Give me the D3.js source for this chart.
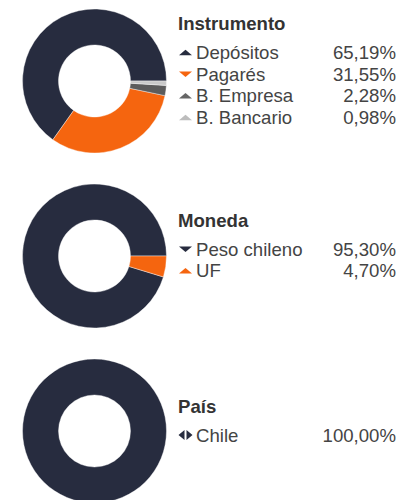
<!DOCTYPE html>
<html>
<head>
<meta charset="utf-8">
<script src="https://cdn.jsdelivr.net/npm/d3@7"></script>
<style>
  html, body { margin: 0; padding: 0; background: #fff; }
  svg { display: block; font-family: "Liberation Sans", Arial, sans-serif; }
</style>
</head>
<body>
<svg id="chart" width="413" height="500"></svg>
<script>
// Portfolio composition: three donuts with their legends
const instrumentoLabels = ["Depósitos", "Pagarés", "B. Empresa", "B. Bancario"];
const instrumentoValues = [65.19, 31.55, 2.28, 0.98];
const instrumentoMarkers = ["up", "down", "up", "up"];

const monedaLabels = ["Peso chileno", "UF"];
const monedaValues = [95.30, 4.70];
const monedaMarkers = ["down", "up"];

const paisLabels = ["Chile"];
const paisValues = [100.00];
const paisMarkers = ["both"];

const panelTitles = ["Instrumento", "Moneda", "País"];

const palette = {
  "Depósitos": "#272c3f",
  "Pagarés": "#f5650f",
  "B. Empresa": "#5c5c5c",
  "B. Bancario": "#c9c9c9",
  "Peso chileno": "#272c3f",
  "UF": "#f5650f",
  "Chile": "#272c3f"
};
const markerColor = {
  "B. Empresa": "#666666",
  "B. Bancario": "#bdbdbd"
};

const panels = [
  { title: panelTitles[0], labels: instrumentoLabels, values: instrumentoValues, markers: instrumentoMarkers },
  { title: panelTitles[1], labels: monedaLabels, values: monedaValues, markers: monedaMarkers },
  { title: panelTitles[2], labels: paisLabels, values: paisValues, markers: paisMarkers }
];

const svg = d3.select("#chart");
const cx = 94.5, r0 = 36, r1 = 72;
const panelY = d3.scalePoint().domain(d3.range(panels.length)).range([81, 431]);

const pie = d3.pie().sort(null)
  .startAngle(Math.PI / 2)
  .endAngle(Math.PI / 2 - 2 * Math.PI);
const arc = d3.arc().innerRadius(r0).outerRadius(r1);
const fmt = v => d3.format(".2f")(v).replace(".", ",") + "%";

const fontSize = 18.6;
const titleGap = 29, rowGap = 21.7;
const textX = 196, markerX = 185.5, valueX = 396;

function marker(g, type, color) {
  const w = 6.5, h = 5.5;
  let d;
  if (type === "up") d = `M${-w},${h / 2}L0,${-h / 2}L${w},${h / 2}Z`;
  else if (type === "down") d = `M${-w},${-h / 2}L0,${h / 2}L${w},${-h / 2}Z`;
  else d = `M-1,-5L-7,0L-1,5ZM1,-5L7,0L1,5Z`;
  g.append("path").attr("d", d).attr("fill", color);
}

panels.forEach((p, i) => {
  const cy = panelY(i);
  const data = p.values.map((v, k) => ({ label: p.labels[k], value: v, marker: p.markers[k] }));

  const donut = svg.append("g").attr("transform", `translate(${cx},${cy})`);
  donut.selectAll("path")
    .data(pie.value(d => d.value)(data))
    .join("path")
    .attr("d", arc)
    .attr("fill", d => palette[d.data.label])
    .attr("stroke", "#fff")
    .attr("stroke-width", 0.4);

  // legend block, centred a little above the donut centre
  const blockH = titleGap + (data.length - 1) * rowGap;
  const titleMid = cy - 10.5 - blockH / 2;
  const legend = svg.append("g");
  legend.append("text")
    .attr("x", 178).attr("y", titleMid)
    .attr("dy", "0.35em")
    .attr("font-size", fontSize)
    .attr("font-weight", "bold")
    .attr("fill", "#333")
    .text(p.title);

  data.forEach((d, k) => {
    const y = titleMid + titleGap + k * rowGap;
    const m = legend.append("g").attr("transform", `translate(${markerX},${y})`);
    marker(m, d.marker, markerColor[d.label] || palette[d.label]);
    legend.append("text")
      .attr("x", textX).attr("y", y).attr("dy", "0.35em")
      .attr("font-size", fontSize).attr("fill", "#444")
      .text(d.label);
    legend.append("text")
      .attr("x", valueX).attr("y", y).attr("dy", "0.35em")
      .attr("text-anchor", "end")
      .attr("font-size", fontSize).attr("fill", "#444")
      .text(fmt(d.value));
  });
});
</script>
</body>
</html>
